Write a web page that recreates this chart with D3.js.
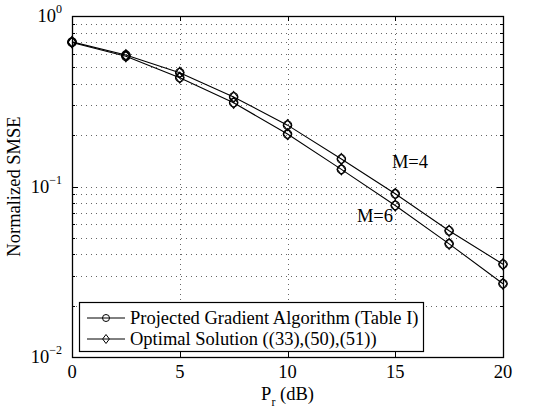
<!DOCTYPE html>
<html><head><meta charset="utf-8">
<script src="https://cdn.jsdelivr.net/npm/d3@7"></script>
<style>body{margin:0;background:#fff}svg{display:block}text{font-family:"Liberation Serif","Times New Roman",serif;fill:#000}</style>
</head><body>
<script>
const pr = [0, 2.5, 5, 7.5, 10, 12.5, 15, 17.5, 20];
const smseM4 = [0.705, 0.59, 0.465, 0.335, 0.229, 0.145, 0.0906, 0.055, 0.035];
const smseM6 = [0.70, 0.58, 0.435, 0.31, 0.203, 0.126, 0.0774, 0.0461, 0.0269];
const xTicks = [0, 5, 10, 15, 20];
const yDecades = [-2, -1, 0];
const legendLabels = ["Projected Gradient Algorithm (Table I)", "Optimal Solution ((33),(50),(51))"];
const curveLabels = ["M=4", "M=6"];

const W = 533, H = 410;
const m = {l: 72, r: 30, t: 16, b: 53};
const pw = W - m.l - m.r, ph = H - m.t - m.b;
const FS = 18.5;
const svg = d3.select("body").append("svg").attr("width", W).attr("height", H);
const x = d3.scaleLinear().domain([0, 20]).range([m.l, m.l + pw]);
const y = d3.scaleLog().domain([0.01, 1]).range([m.t + ph, m.t]);

// grid
const minor = [];
for (let d = -2; d < 0; d++) for (let k = 2; k <= 9; k++) minor.push(k * Math.pow(10, d));
const g = svg.append("g").attr("stroke", "#666").attr("stroke-width", 1).attr("stroke-dasharray", "1,4");
minor.concat([0.1]).forEach(v => g.append("line").attr("x1", m.l + 4).attr("x2", m.l + pw).attr("y1", Math.round(y(v)) + 0.5).attr("y2", Math.round(y(v)) + 0.5));
xTicks.slice(1, -1).forEach(v => g.append("line").attr("y1", m.t + 3).attr("y2", m.t + ph).attr("x1", Math.round(x(v)) + 0.5).attr("x2", Math.round(x(v)) + 0.5));

// ticks inside
const t = svg.append("g").attr("stroke", "#000").attr("stroke-width", 1);
xTicks.forEach(v => {
  const xx = Math.round(x(v)) + 0.5;
  t.append("line").attr("x1", xx).attr("x2", xx).attr("y1", m.t + ph).attr("y2", m.t + ph - 5);
  t.append("line").attr("x1", xx).attr("x2", xx).attr("y1", m.t).attr("y2", m.t + 5);
});
minor.forEach(v => {
  const yy = Math.round(y(v)) + 0.5;
  t.append("line").attr("x1", m.l).attr("x2", m.l + 3).attr("y1", yy).attr("y2", yy);
  t.append("line").attr("x1", m.l + pw).attr("x2", m.l + pw - 3).attr("y1", yy).attr("y2", yy);
});
yDecades.forEach(d => {
  const yy = Math.round(y(Math.pow(10, d))) + 0.5;
  t.append("line").attr("x1", m.l).attr("x2", m.l + 6).attr("y1", yy).attr("y2", yy);
  t.append("line").attr("x1", m.l + pw).attr("x2", m.l + pw - 6).attr("y1", yy).attr("y2", yy);
});
svg.append("rect").attr("x", m.l + 0.5).attr("y", m.t + 0.5).attr("width", pw).attr("height", ph)
  .attr("fill", "none").attr("stroke", "#000").attr("stroke-width", 1.3);

// tick labels
xTicks.forEach(v => svg.append("text").attr("x", x(v)).attr("y", m.t + ph + 21).attr("text-anchor", "middle").attr("font-size", FS).text(v));
yDecades.forEach(d => {
  const tx = svg.append("text").attr("x", m.l - 10).attr("y", y(Math.pow(10, d)) + 6).attr("text-anchor", "end").attr("font-size", FS);
  tx.append("tspan").text("10");
  tx.append("tspan").attr("dy", -9).attr("font-size", 12).text(d === 0 ? "0" : "\u2212" + String(-d));
});

// axis titles
const xl = svg.append("text").attr("x", x(10)).attr("y", 400).attr("text-anchor", "middle").attr("font-size", FS);
xl.append("tspan").text("P");
xl.append("tspan").attr("dy", 6).attr("font-size", 12).text("r");
xl.append("tspan").attr("dy", -6).text(" (dB)");
svg.append("text").attr("transform", `translate(20,${m.t + ph / 2}) rotate(-90)`).attr("text-anchor", "middle").attr("font-size", FS).text("Normalized SMSE");

// curves
const line = d3.line().x((d, i) => x(pr[i])).y(d => y(d));
const diamond = (cx, cy, s) => `M${cx},${cy - s}L${cx + s * 0.75},${cy}L${cx},${cy + s}L${cx - s * 0.75},${cy}Z`;
[smseM4, smseM6].forEach(series => {
  svg.append("path").datum(series).attr("d", line).attr("fill", "none").attr("stroke", "#000").attr("stroke-width", 1.1);
  series.forEach((v, i) => {
    svg.append("circle").attr("cx", x(pr[i])).attr("cy", y(v)).attr("r", 4.2).attr("fill", "none").attr("stroke", "#000").attr("stroke-width", 1.1);
    svg.append("path").attr("d", diamond(x(pr[i]), y(v), 5.5)).attr("fill", "none").attr("stroke", "#000").attr("stroke-width", 1.1);
  });
});
svg.append("text").attr("x", 410).attr("y", 168).attr("text-anchor", "middle").attr("font-size", FS).text(curveLabels[0]);
svg.append("text").attr("x", 375).attr("y", 222).attr("text-anchor", "middle").attr("font-size", FS).text(curveLabels[1]);

// legend
const lg = svg.append("g");
lg.append("rect").attr("x", 79.5).attr("y", 302.5).attr("width", 344).attr("height", 49).attr("fill", "#fff").attr("stroke", "#000").attr("stroke-width", 1.2);
legendLabels.forEach((lab, i) => {
  const yy = 318 + i * 21;
  lg.append("line").attr("x1", 87).attr("x2", 125).attr("y1", yy).attr("y2", yy).attr("stroke", "#000").attr("stroke-width", 1);
  if (i === 0) lg.append("circle").attr("cx", 106).attr("cy", yy).attr("r", 3.5).attr("fill", "none").attr("stroke", "#000");
  else lg.append("path").attr("d", diamond(106, yy, 4.5)).attr("fill", "none").attr("stroke", "#000");
  lg.append("text").attr("x", 130).attr("y", yy + 6).attr("font-size", FS).text(lab);
});
</script>
</body></html>
